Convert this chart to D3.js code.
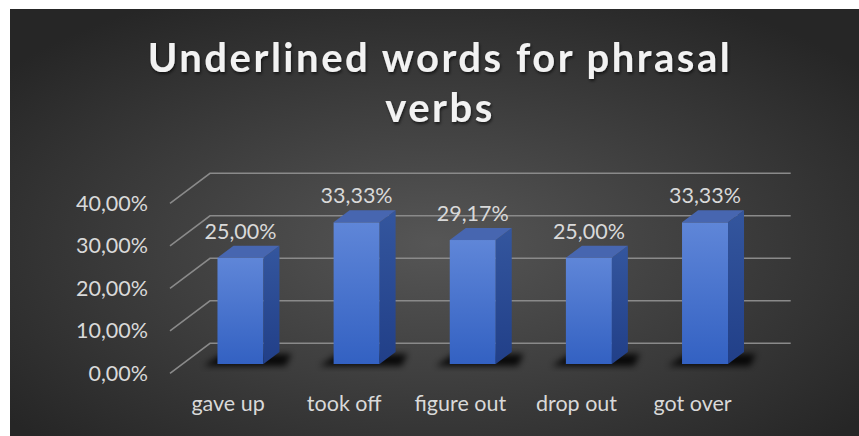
<!DOCTYPE html>
<html>
<head>
<meta charset="utf-8">
<script src="https://cdn.jsdelivr.net/npm/d3@7"></script>
<style>
  html, body { margin: 0; padding: 0; background: #ffffff; }
  svg { display: block; }
</style>
</head>
<body>
<script>
// chart data
var categories = ["gave up", "took off", "figure out", "drop out", "got over"];
var values = [0.25, 0.3333, 0.2917, 0.25, 0.3333];
var yTicks = [0, 0.1, 0.2, 0.3, 0.4];
var titleLines = ["Underlined words for phrasal", "verbs"];

var W = 859, H = 436;
var font = "Lato, 'Open Sans', sans-serif";

// 3d look: back wall is shifted by depth
var depthX = 40, depthY = 30;
var barF = 0.31;     // where the bar front sits in the depth
var barD = 0.4;      // bar depth

var locale = d3.formatLocale({ decimal: ",", thousands: ".", grouping: [3], currency: ["", "€"] });
var pct = locale.format(".2%");

var svg = d3.select("body").append("svg")
  .attr("width", W)
  .attr("height", H);

var defs = svg.append("defs");

var bg = defs.append("radialGradient").attr("id", "bg")
  .attr("cx", "50%").attr("cy", "55%").attr("r", "65%");
bg.append("stop").attr("offset", "0%").attr("stop-color", "#565656");
bg.append("stop").attr("offset", "100%").attr("stop-color", "#262626");

var front = defs.append("linearGradient").attr("id", "front")
  .attr("x1", 0).attr("y1", 0).attr("x2", 0).attr("y2", 1);
front.append("stop").attr("offset", "0%").attr("stop-color", "#5f86d8");
front.append("stop").attr("offset", "100%").attr("stop-color", "#3361c2");

var side = defs.append("linearGradient").attr("id", "side")
  .attr("x1", 0).attr("y1", 0).attr("x2", 0).attr("y2", 1);
side.append("stop").attr("offset", "0%").attr("stop-color", "#34569e");
side.append("stop").attr("offset", "100%").attr("stop-color", "#213f88");

defs.append("filter").attr("id", "blur")
  .attr("x", "-50%").attr("y", "-50%").attr("width", "200%").attr("height", "200%")
  .append("feGaussianBlur").attr("stdDeviation", 3);

defs.append("filter").attr("id", "tshadow")
  .append("feDropShadow").attr("dx", 1).attr("dy", 2).attr("stdDeviation", 1.5)
  .attr("flood-color", "#000").attr("flood-opacity", 0.6);

svg.append("rect")
  .attr("x", 10).attr("y", 9)
  .attr("width", W - 10).attr("height", H - 9)
  .attr("fill", "url(#bg)");

// title
var title = svg.append("g").attr("filter", "url(#tshadow)");
title.selectAll("text")
  .data(titleLines)
  .enter()
  .append("text")
  .attr("x", 440)
  .attr("y", function (d, i) { return 72 + i * 50; })
  .attr("text-anchor", "middle")
  .style("font-family", font)
  .style("font-weight", "700")
  .style("font-size", "40px")
  .style("fill", "#f2f2f2")
  .text(function (d) { return d; });

// stretch letters so the first line is as wide as in the picture
var firstLine = title.select("text").node();
var w0 = firstLine.getComputedTextLength();
var ls = (582 - w0) / (titleLines[0].length - 1);
title.selectAll("text").style("letter-spacing", ls + "px");

// scales (front plane)
var x = d3.scaleBand().domain(categories).range([170, 750.7]);
var y = d3.scaleLinear().domain([0, 0.4]).range([373.3, 203.3]);

// gridlines: front -> back wall
svg.append("g")
  .selectAll("polyline")
  .data(yTicks)
  .enter()
  .append("polyline")
  .attr("points", function (d) {
    var yy = y(d);
    return [[170, yy], [170 + depthX, yy - depthY], [750.7 + depthX, yy - depthY]].join(" ");
  })
  .attr("fill", "none")
  .attr("stroke", "#8a8a8a")
  .attr("stroke-width", 1.6);

// y axis labels
var yAxis = svg.append("g")
  .attr("transform", "translate(170,0)")
  .call(d3.axisLeft(y).tickValues(yTicks).tickFormat(pct).tickSize(0).tickPadding(22));
yAxis.select(".domain").remove();
yAxis.selectAll("text")
  .style("font-family", font)
  .style("font-size", "21.5px")
  .style("fill", "#d9d9d9");

// x axis labels
var xAxis = svg.append("g")
  .attr("transform", "translate(0," + y(0) + ")")
  .call(d3.axisBottom(x).tickSize(0).tickPadding(22));
xAxis.select(".domain").remove();
xAxis.selectAll("text")
  .style("font-family", font)
  .style("font-size", "21.5px")
  .style("fill", "#d9d9d9");

// bars
var barW = x.bandwidth() * 0.396;
var dx = depthX * barD, dy = depthY * barD;

function geo(d, i) {
  var c = categories[i];
  var left = x(c) + (x.bandwidth() - barW) / 2 + depthX * barF;
  var right = left + barW;
  var bottom = y(0) - depthY * barF;
  var top = y(d) - depthY * barF;
  return { left: left, right: right, bottom: bottom, top: top };
}

var bars = svg.append("g")
  .selectAll("g")
  .data(values)
  .enter()
  .append("g");

// floor shadow
bars.append("polygon")
  .attr("points", function (d, i) {
    var g = geo(d, i);
    return [[g.left - 14, g.bottom + 2], [g.right + 22, g.bottom + 2],
            [g.right + dx + 12, g.bottom - dy + 2], [g.left + 4, g.bottom - dy + 2]].join(" ");
  })
  .attr("fill", "#000")
  .attr("opacity", 0.85)
  .attr("filter", "url(#blur)");

bars.append("rect")
  .attr("x", function (d, i) { return geo(d, i).left; })
  .attr("y", function (d, i) { return geo(d, i).top; })
  .attr("width", barW)
  .attr("height", function (d, i) { var g = geo(d, i); return g.bottom - g.top; })
  .attr("fill", "url(#front)");

bars.append("polygon")
  .attr("points", function (d, i) {
    var g = geo(d, i);
    return [[g.right, g.bottom], [g.right + dx, g.bottom - dy],
            [g.right + dx, g.top - dy], [g.right, g.top]].join(" ");
  })
  .attr("fill", "url(#side)");

bars.append("polygon")
  .attr("points", function (d, i) {
    var g = geo(d, i);
    return [[g.left, g.top], [g.right, g.top],
            [g.right + dx, g.top - dy], [g.left + dx, g.top - dy]].join(" ");
  })
  .attr("fill", "#4766b0");

// data labels
bars.append("text")
  .attr("x", function (d, i) { var g = geo(d, i); return (g.left + g.right) / 2; })
  .attr("y", function (d, i) { return geo(d, i).top - dy - 7; })
  .attr("text-anchor", "middle")
  .style("font-family", font)
  .style("font-size", "21.5px")
  .style("fill", "#d9d9d9")
  .text(function (d) { return pct(d); });
</script>
</body>
</html>
